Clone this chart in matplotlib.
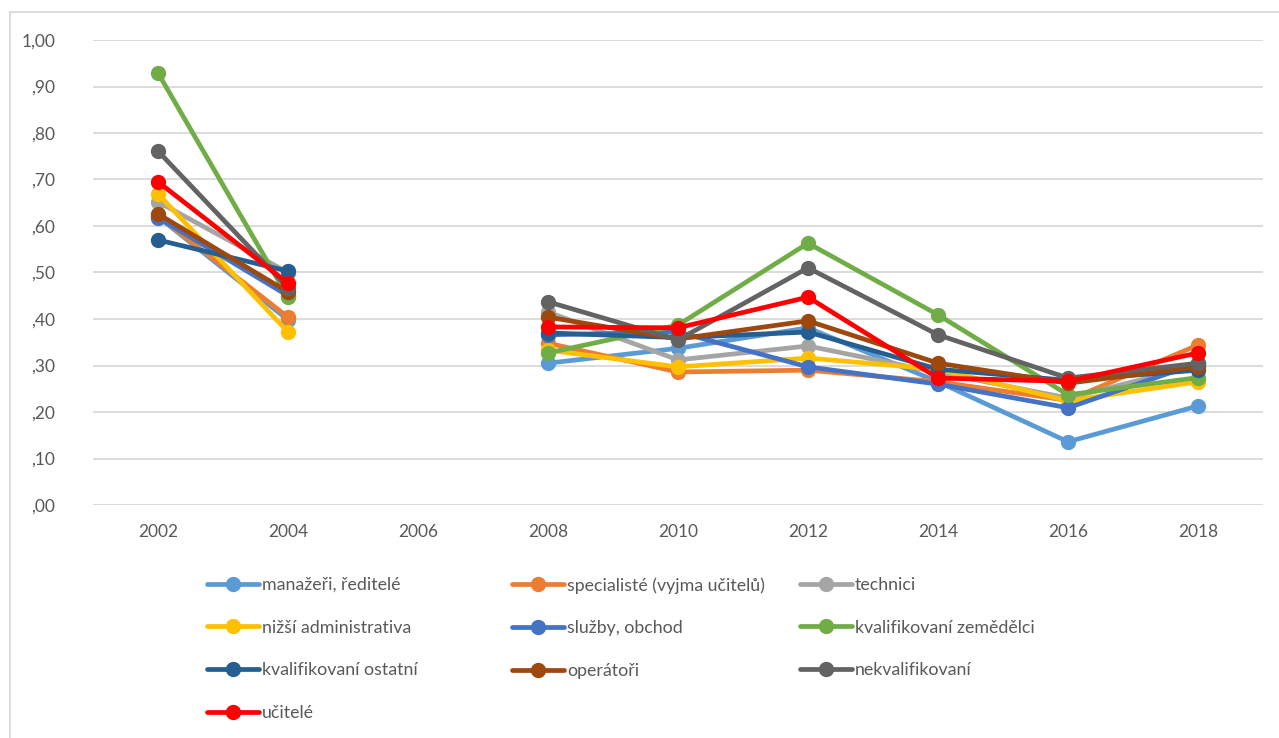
import matplotlib
matplotlib.use("Agg")
import matplotlib.pyplot as plt
import numpy as np
from matplotlib.ticker import FuncFormatter, MultipleLocator
from matplotlib.patches import Rectangle

years = ["2002", "2004", "2006", "2008", "2010", "2012", "2014", "2016", "2018"]
nan = np.nan

manazeri      = [0.620, 0.398, nan, 0.305, 0.337, 0.381, 0.265, 0.136, 0.213]
specialiste   = [0.622, 0.404, nan, 0.348, 0.286, 0.290, 0.265, 0.225, 0.344]
technici      = [0.652, 0.500, nan, 0.415, 0.312, 0.342, 0.285, 0.230, 0.300]
nizsi_admin   = [0.669, 0.372, nan, 0.333, 0.297, 0.316, 0.292, 0.224, 0.265]
sluzby        = [0.618, 0.450, nan, 0.366, 0.372, 0.297, 0.260, 0.209, 0.305]
kval_zem      = [0.929, 0.447, nan, 0.327, 0.387, 0.563, 0.409, 0.237, 0.274]
kval_ostatni  = [0.570, 0.503, nan, 0.370, 0.360, 0.372, 0.292, 0.268, 0.290]
operatori     = [0.626, 0.458, nan, 0.404, 0.357, 0.396, 0.305, 0.262, 0.297]
nekval        = [0.761, 0.467, nan, 0.437, 0.355, 0.510, 0.366, 0.273, 0.305]
ucitele       = [0.695, 0.477, nan, 0.383, 0.381, 0.447, 0.273, 0.266, 0.327]

labels = ["manažeři, ředitelé", "specialisté (vyjma učitelů)", "technici",
          "nižší administrativa", "služby, obchod", "kvalifikovaní zemědělci",
          "kvalifikovaní ostatní", "operátoři", "nekvalifikovaní", "učitelé"]
series = [manazeri, specialiste, technici, nizsi_admin, sluzby, kval_zem,
          kval_ostatni, operatori, nekval, ucitele]
colors = ["#5B9BD5", "#ED7D31", "#A5A5A5", "#FFC000", "#4472C4", "#70AD47",
          "#255E91", "#9E480E", "#636363", "#FF0000"]

plt.rcParams['font.family'] = ['Lato', 'DejaVu Sans']
txt = "#595959"

fig = plt.figure(figsize=(12.79, 7.38), dpi=100)
W, H = 1279, 738
ax = fig.add_axes([93 / W, 1 - 505 / H, (1263 - 93) / W, (505 - 40) / H])

x = np.arange(len(years))
handles = []
for vals, lab, c in zip(series, labels, colors):
    h, = ax.plot(x, vals, color=c, lw=3.4, marker="o", ms=10,
                 solid_capstyle="round", label=lab, zorder=3)
    handles.append(h)

ax.set_xlim(-0.5, len(years) - 0.5)
ax.set_ylim(0, 1.0)
ax.set_xticks(x)
ax.set_xticklabels(years)
ax.yaxis.set_major_locator(MultipleLocator(0.1))

def fmt(v, pos):
    s = f"{v:.2f}".replace(".", ",")
    if s.startswith("0"):
        s = s[1:]
    return s
ax.yaxis.set_major_formatter(FuncFormatter(fmt))

ax.grid(axis="y", color="#D9D9D9", lw=1.3, zorder=0)
ax.set_axisbelow(True)
for sp in ax.spines.values():
    sp.set_visible(False)
ax.tick_params(length=0, labelsize=12.5, colors=txt)
ax.tick_params(axis="y", pad=27)
ax.tick_params(axis="x", pad=14)

# legend: 3 columns laid out row-wise, as in the reference
cols = [[0, 3, 6, 9], [1, 4, 7], [2, 5, 8]]
col_x = [207, 512, 800]
for idxs, cx in zip(cols, col_x):
    leg = fig.legend([handles[i] for i in idxs], [labels[i] for i in idxs],
                     ncol=1, loc="upper left",
                     bbox_to_anchor=(cx / W, 1 - 577 / H),
                     frameon=False, fontsize=12.8, handlelength=2.9,
                     handletextpad=0.2, labelspacing=1.5,
                     borderaxespad=0, borderpad=0)
    for t in leg.get_texts():
        t.set_color(txt)

fig.patches.append(Rectangle((10 / W, -0.1), 1.2, 1 - 12 / H + 0.1,
                             transform=fig.transFigure, fill=False,
                             edgecolor="#D9D9D9", lw=1.3))

fig.savefig("out.png", dpi=100, facecolor="white")
